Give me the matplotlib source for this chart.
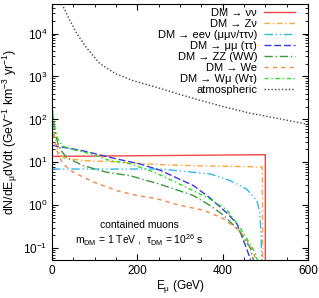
import numpy as np
import matplotlib
matplotlib.use("Agg")
import matplotlib.pyplot as plt

plt.rcParams['font.family'] = ['Liberation Sans', 'DejaVu Sans']
plt.rcParams['mathtext.fontset'] = 'custom'
plt.rcParams['mathtext.rm'] = 'Liberation Sans'
plt.rcParams['mathtext.it'] = 'Liberation Sans:italic'
plt.rcParams['mathtext.bf'] = 'Liberation Sans:bold'

# ---- data ----
E_nunu = [0, 250, 500, 500]
v_nunu = [13.8, 14.4, 15.1, 1e-3]

E_znu = [0, 5, 12, 20, 30, 74, 150, 200, 260, 350, 450, 493, 494]
v_znu = [100, 45, 22, 15, 12.5, 11, 10.3, 9.5, 8.8, 8.3, 8.0, 7.8, 1e-3]

E_eenu = [0, 100, 253, 370, 417, 456, 480, 487, 490, 492]
v_eenu = [7.0, 7.0, 7.0, 5.4, 3.8, 2.4, 1.3, 0.7, 0.2, 0.04]

E_mumu = [0, 73, 152, 206, 253, 331, 370, 410, 433, 448, 464, 470]
v_mumu = [25, 18.6, 12, 9.2, 6.6, 2.9, 1.5, 0.66, 0.38, 0.16, 0.06, 0.03]

E_zz = [0, 3, 7, 15, 25, 34, 73, 128, 183, 253, 331, 370, 401, 440, 465, 475]
v_zz = [200, 100, 50, 25, 17, 13, 8.4, 5.9, 4.9, 3.1, 1.7, 1.0, 0.6, 0.25, 0.1, 0.04]

E_we = [0, 5, 12, 20, 26, 50, 97, 152, 199, 245, 300, 355, 400, 441, 464, 480]
v_we = [70, 35, 18, 12, 9.2, 5.9, 3.5, 2.2, 1.7, 1.43, 1.0, 0.77, 0.5, 0.25, 0.12, 0.05]

E_wmu = [0, 3, 7, 14, 25, 42, 89, 136, 183, 230, 260, 331, 370, 409, 441, 476, 485]
v_wmu = [230, 110, 60, 35, 24, 20.7, 15.9, 11, 9.3, 6.4, 4.8, 2.2, 1.4, 0.8, 0.3, 0.08, 0.04]

E_atm = [23, 40, 58, 80, 112, 150, 190, 253, 300, 347, 400, 464, 530, 600]
v_atm = [4.9e4, 2.2e4, 1.0e4, 4800, 2000, 1150, 800, 530, 380, 280, 200, 140, 105, 77]

labels = ["DM → νν", "DM → Zν", "DM → eeν (μμν/ττν)", "DM → μμ (ττ)",
          "DM → ZZ (WW)", "DM → We", "DM → Wμ (Wτ)", "atmospheric"]

fig = plt.figure(figsize=(3.19, 2.98), dpi=100)
ax = fig.add_axes([0.163, 0.1275, 0.8025, 0.86])

ax.plot(E_nunu, v_nunu, color="#f04848", lw=1.0, ls="-", label=labels[0])
ax.plot(E_znu, v_znu, color="#ffa533", lw=1.0, ls=(0, (4, 2, 1, 2)), label=labels[1])
ax.plot(E_eenu, v_eenu, color="#33b8e8", lw=1.0, ls=(0, (6, 2, 1, 2, 1, 2)), label=labels[2])
ax.plot(E_mumu, v_mumu, color="#3838e0", lw=1.0, ls=(0, (5, 2)), label=labels[3])
ax.plot(E_zz, v_zz, color="#3a9a3a", lw=1.0, ls=(0, (6, 2, 1, 2)), label=labels[4])
ax.plot(E_we, v_we, color="#f08848", lw=1.0, ls=(0, (3, 3)), label=labels[5])
ax.plot(E_wmu, v_wmu, color="#22e022", lw=1.0, ls=(0, (3, 2, 1, 2)), label=labels[6])
ax.plot(E_atm, v_atm, color="#444444", lw=1.0, ls=(0, (1, 1.5)), label=labels[7])

ax.set_yscale("log")
ax.set_xlim(0, 600)
ax.set_ylim(0.0534, 4.94e4)
ax.set_xticks([0, 200, 400, 600])
ax.set_xticks(np.arange(0, 601, 50), minor=True)
ax.tick_params(which="both", direction="in", top=True, right=True, labelsize=8.5)
ax.tick_params(which="major", length=4)
ax.tick_params(which="minor", length=2)

ax.set_xlabel(r"E$_{\rm μ}$ (GeV)", fontsize=8.5, labelpad=1)
ax.set_ylabel(r"dN/dE$_{\rm μ}$dVdt (GeV$^{-1}$ km$^{-3}$ yr$^{-1}$)", fontsize=8.8, labelpad=2)

ax.text(0.34, 0.135, "contained muons", transform=ax.transAxes, ha="center", va="center", fontsize=7.5)
ax.text(0.34, 0.075, r"m$_{\rm DM}$ = 1 TeV ,  τ$_{\rm DM}$ = 10$^{26}$ s",
        transform=ax.transAxes, ha="center", va="center", fontsize=7.5)

ax.legend(loc="upper right", bbox_to_anchor=(0.949, 0.985), frameon=False,
          markerfirst=False, fontsize=8, handlelength=2.8, labelspacing=0.1,
          handletextpad=0.6, borderaxespad=0.0, borderpad=0.0)

fig.savefig("out.png", dpi=100)
